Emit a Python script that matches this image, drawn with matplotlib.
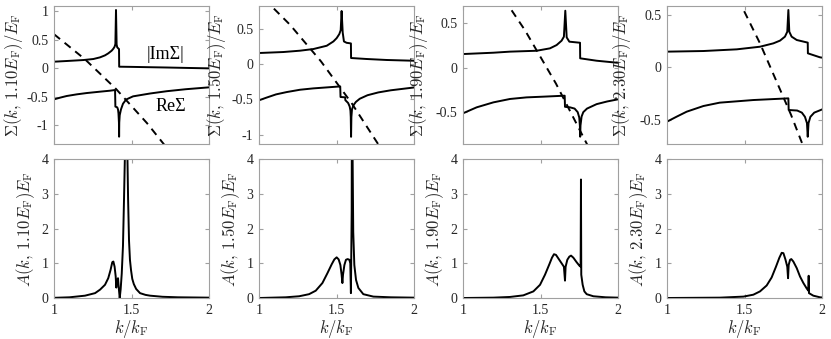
import numpy as np
import matplotlib
matplotlib.use("Agg")
import matplotlib.pyplot as plt

plt.rcParams['mathtext.fontset'] = 'cm'
plt.rcParams['font.family'] = ['Liberation Serif', 'DejaVu Serif']
plt.rcParams['axes.unicode_minus'] = False

energies = ["1.10", "1.50", "1.90", "2.30"]

# ---- Self-energy panels (top row) ----
im_k1 = [1.0, 1.082, 1.19, 1.254, 1.297, 1.329, 1.35, 1.372, 1.383, 1.391, 1.396, 1.400, 1.404, 1.408, 1.415, 1.4195, 1.4205, 1.5, 1.6, 1.727, 1.85, 2.0]
im_v1 = [0.118, 0.13, 0.147, 0.165, 0.194, 0.229, 0.264, 0.311, 0.346, 0.381, 0.428, 1.025, 0.42, 0.37, 0.35, 0.34, 0.03, 0.027, 0.022, 0.016, 0.009, 0.001]
re_k1 = [1.0, 1.039, 1.082, 1.147, 1.211, 1.297, 1.361, 1.394, 1.396, 1.408, 1.413, 1.416, 1.419, 1.420, 1.421, 1.424, 1.432, 1.445, 1.465, 1.51, 1.62, 1.727, 1.85, 2.0]
re_v1 = [-0.543, -0.513, -0.484, -0.455, -0.432, -0.408, -0.391, -0.379, -0.67, -0.683, -0.72, -0.79, -0.95, -1.198, -0.95, -0.82, -0.72, -0.62, -0.546, -0.49, -0.44, -0.40, -0.365, -0.332]
ds_k1 = [1.0, 1.2, 1.4, 1.6, 1.8]
ds_v1 = [0.6, 0.16, -0.36, -0.96, -1.64]

im_k2 = [1.0, 1.157, 1.265, 1.35, 1.437, 1.48, 1.501, 1.518, 1.527, 1.533, 1.540, 1.548, 1.565, 1.593, 1.594, 1.695, 1.824, 1.97, 2.0]
im_v2 = [0.159, 0.173, 0.192, 0.215, 0.262, 0.323, 0.37, 0.427, 0.483, 0.755, 0.45, 0.323, 0.304, 0.295, 0.088, 0.074, 0.06, 0.051, 0.05]
re_k2 = [1.0, 1.047, 1.11, 1.179, 1.265, 1.35, 1.437, 1.524, 1.526, 1.556, 1.557, 1.575, 1.585, 1.59, 1.592, 1.594, 1.596, 1.6, 1.61, 1.625, 1.65, 1.7, 1.77, 1.85, 2.0]
re_v2 = [-0.512, -0.475, -0.428, -0.395, -0.362, -0.343, -0.329, -0.315, -0.465, -0.47, -0.51, -0.55, -0.6, -0.66, -0.75, -1.03, -0.75, -0.64, -0.58, -0.535, -0.49, -0.44, -0.40, -0.37, -0.33]
ds_k2 = [1.0, 1.2, 1.4, 1.6, 1.8]
ds_v2 = [1.0, 0.56, 0.04, -0.56, -1.24]

im_k3 = [1.0, 1.196, 1.303, 1.475, 1.561, 1.604, 1.636, 1.651, 1.660, 1.669, 1.686, 1.755, 1.756, 1.862, 1.991, 2.0]
im_v3 = [0.153, 0.168, 0.18, 0.19, 0.217, 0.254, 0.303, 0.348, 0.64, 0.34, 0.292, 0.28, 0.105, 0.078, 0.056, 0.055]
re_k3 = [1.0, 1.088, 1.196, 1.303, 1.41, 1.518, 1.656, 1.658, 1.69, 1.72, 1.74, 1.75, 1.754, 1.756, 1.758, 1.765, 1.776, 1.8, 1.862, 1.93, 2.0]
re_v3 = [-0.513, -0.446, -0.39, -0.352, -0.334, -0.326, -0.315, -0.44, -0.446, -0.46, -0.5, -0.56, -0.65, -0.776, -0.65, -0.55, -0.5, -0.46, -0.41, -0.38, -0.356]
ds_k3 = [1.2, 1.4, 1.6, 1.8, 2.0]
ds_v3 = [0.94, 0.42, -0.18, -0.86, -1.62]

im_k4 = [1.0, 1.235, 1.45, 1.6, 1.686, 1.729, 1.761, 1.776, 1.783, 1.789, 1.804, 1.837, 1.908, 1.909, 1.987, 2.0]
im_v4 = [0.151, 0.157, 0.173, 0.198, 0.23, 0.256, 0.294, 0.341, 0.548, 0.341, 0.294, 0.262, 0.237, 0.135, 0.097, 0.094]
re_k4 = [1.0, 1.063, 1.127, 1.235, 1.34, 1.557, 1.783, 1.785, 1.84, 1.87, 1.89, 1.903, 1.908, 1.913, 1.925, 1.95, 2.0]
re_v4 = [-0.516, -0.468, -0.421, -0.367, -0.335, -0.31, -0.294, -0.405, -0.41, -0.43, -0.47, -0.53, -0.66, -0.53, -0.47, -0.43, -0.40]
ds_k4 = [1.4, 1.6, 1.8, 2.0]
ds_v4 = [0.83, 0.23, -0.45, -1.21]

sig_ylims = [(-1.326, 1.095), (-1.132, 0.826), (-0.858, 0.693), (-0.729, 0.586)]
sig_ticks = [[-1, -0.5, 0, 0.5, 1], [-1, -0.5, 0, 0.5], [-0.5, 0, 0.5], [-0.5, 0, 0.5]]

# ---- Spectral function panels (bottom row) ----
a_k1 = [1.0, 1.1, 1.2, 1.265, 1.297, 1.329, 1.35, 1.365, 1.376, 1.383, 1.391, 1.398, 1.402, 1.404, 1.409, 1.413, 1.417, 1.424,
        1.43, 1.437, 1.445, 1.452, 1.457, 1.463, 1.466, 1.47, 1.474, 1.478, 1.484, 1.49, 1.497, 1.505, 1.515, 1.53, 1.555, 1.59, 1.62, 1.7, 1.8, 2.0]
a_v1 = [0.005, 0.02, 0.067, 0.14, 0.24, 0.38, 0.57, 0.81, 1.03, 1.05, 0.9, 0.62, 0.3, 0.52, 0.52, 0.57, 0.33, 0.0,
        0.25, 0.7, 1.5, 2.9, 4.0, 6.5, 7.0, 5.5, 4.0, 2.85, 1.65, 1.1, 0.8, 0.55, 0.4, 0.26, 0.14, 0.09, 0.067, 0.035, 0.02, 0.01]

a_k2 = [1.0, 1.172, 1.259, 1.323, 1.366, 1.409, 1.441, 1.469, 1.486, 1.501, 1.514, 1.525, 1.533, 1.538, 1.542, 1.551, 1.561, 1.572, 1.583, 1.589, 1.593,
        1.598, 1.601, 1.604, 1.608, 1.615, 1.626, 1.641, 1.673, 1.738, 1.85, 2.0]
a_v2 = [0.0, 0.02, 0.05, 0.11, 0.21, 0.43, 0.71, 0.97, 1.11, 1.17, 1.11, 0.95, 0.67, 0.43, 0.67, 0.95, 1.1, 1.12, 1.1, 1.0, 0.14,
        2.5, 10.0, 4.0, 1.9, 0.95, 0.52, 0.29, 0.11, 0.04, 0.02, 0.01]

a_k3 = [1.0, 1.196, 1.303, 1.389, 1.454, 1.497, 1.529, 1.557, 1.574, 1.587, 1.6, 1.615, 1.636, 1.651, 1.658, 1.662, 1.673, 1.686, 1.697, 1.712, 1.733, 1.751, 1.759,
        1.761, 1.763, 1.772, 1.783, 1.798, 1.841, 1.92, 2.0]
a_v3 = [0.0, 0.01, 0.03, 0.076, 0.19, 0.38, 0.67, 0.97, 1.16, 1.26, 1.24, 1.14, 1.0, 0.9, 0.5, 0.9, 1.1, 1.19, 1.22, 1.16, 1.03, 0.93, 0.9,
        3.41, 0.67, 0.38, 0.19, 0.11, 0.05, 0.02, 0.01]

a_k4 = [1.0, 1.342, 1.493, 1.557, 1.6, 1.643, 1.675, 1.703, 1.725, 1.74, 1.751, 1.764, 1.776, 1.781, 1.785, 1.794, 1.802, 1.815, 1.837, 1.858, 1.88, 1.902, 1.912,
        1.914, 1.916, 1.944, 1.987, 2.0]
a_v4 = [0.0, 0.01, 0.04, 0.095, 0.19, 0.36, 0.59, 0.9, 1.16, 1.3, 1.29, 1.11, 0.9, 0.57, 0.95, 1.1, 1.12, 1.05, 0.86, 0.62, 0.43, 0.27, 0.21,
        0.64, 0.14, 0.067, 0.02, 0.015]

im_k = [im_k1, im_k2, im_k3, im_k4]
im_v = [im_v1, im_v2, im_v3, im_v4]
re_k = [re_k1, re_k2, re_k3, re_k4]
re_v = [re_v1, re_v2, re_v3, re_v4]
ds_k = [ds_k1, ds_k2, ds_k3, ds_k4]
ds_v = [ds_v1, ds_v2, ds_v3, ds_v4]
a_k = [a_k1, a_k2, a_k3, a_k4]
a_v = [a_v1, a_v2, a_v3, a_v4]

W, H = 831, 339
fig = plt.figure(figsize=(W / 100, H / 100), dpi=100)
lefts = [54, 259, 463, 667]
pw = 155
top_label_x = [-0.19, -0.20, -0.213, -0.219]
bot_label_x = -0.107
frame_col = '#a0a0a0'
text_col = '#262626'


def style(ax):
    for s in ax.spines.values():
        s.set_color(frame_col)
        s.set_linewidth(0.8)
    ax.tick_params(direction='in', top=True, right=True, length=3,
                   color=frame_col, labelcolor=text_col, labelsize=10, pad=4)


for i in range(4):
    # top
    ax = fig.add_axes([lefts[i] / W, (H - 144) / H, pw / W, 138 / H])
    ax.plot(im_k[i], im_v[i], color='black', lw=1.4)
    ax.plot(re_k[i], re_v[i], color='black', lw=1.4)
    ax.plot(ds_k[i], ds_v[i], color='black', lw=1.4, ls=(0, (4, 3)))
    ax.set_xlim(1, 2)
    ax.set_ylim(*sig_ylims[i])
    ax.set_xticks([1, 1.5, 2])
    ax.set_xticklabels([])
    ax.set_yticks(sig_ticks[i])
    ax.set_yticklabels([('%g' % t) for t in sig_ticks[i]])
    ax.set_ylabel(r'$\Sigma(k,\,%s E_{\mathrm{F}})/E_{\mathrm{F}}$' % energies[i],
                  fontsize=12, color=text_col)
    ax.yaxis.set_label_coords(top_label_x[i], 0.5)
    style(ax)
    if i == 0:
        ax.text(1.72, 0.24, '|ImΣ|', fontsize=13, ha='center', va='center', color='black')
        ax.text(1.755, -0.67, 'ReΣ', fontsize=13, ha='center', va='center', color='black')

    # bottom
    ax2 = fig.add_axes([lefts[i] / W, (H - 298) / H, pw / W, 139 / H])
    ax2.plot(a_k[i], a_v[i], color='black', lw=1.4)
    ax2.set_xlim(1, 2)
    ax2.set_ylim(0, 4)
    ax2.set_xticks([1, 1.5, 2])
    ax2.set_xticklabels(['1', '1.5', '2'])
    ax2.set_yticks([0, 1, 2, 3, 4])
    ax2.set_ylabel(r'$A(k,\,%s E_{\mathrm{F}})E_{\mathrm{F}}$' % energies[i],
                   fontsize=12, color=text_col)
    ax2.yaxis.set_label_coords(bot_label_x, 0.5)
    ax2.set_xlabel(r'$k/k_{\mathrm{F}}$', fontsize=12, color=text_col, labelpad=1)
    style(ax2)

fig.savefig('out.png', dpi=100)
